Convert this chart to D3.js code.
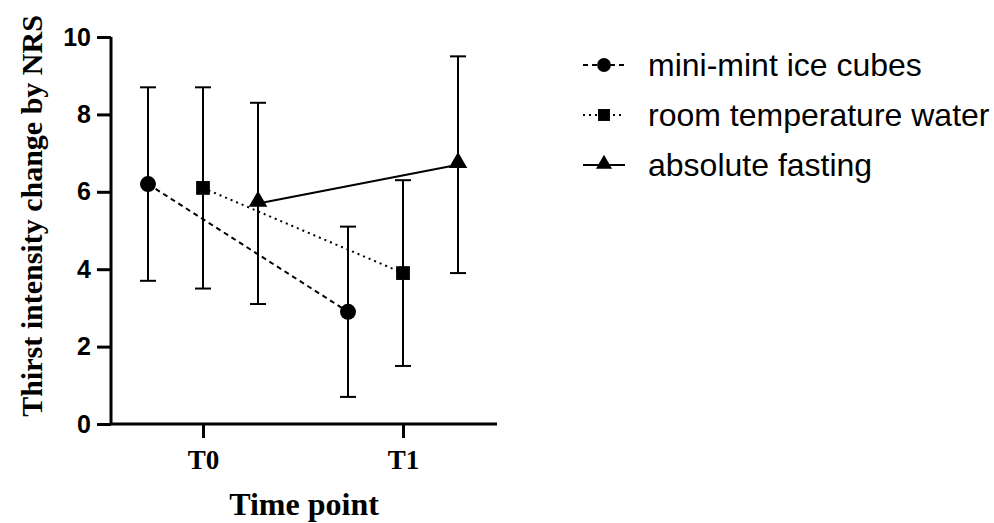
<!DOCTYPE html>
<html lang="en">
<head>
<meta charset="UTF-8">
<title>Thirst intensity</title>
<script src="https://d3js.org/d3.v7.min.js"></script>
<style>
  body { margin: 0; background: #fff; }
</style>
</head>
<body>
<script>
    // data
    var timePoints = ['T0', 'T1'];
    var seriesNames = ['mini-mint ice cubes', 'room temperature water', 'absolute fasting'];
    var means = [[6.2, 2.9], [6.1, 3.9], [5.7, 6.7]];
    var lows  = [[3.7, 0.7], [3.5, 1.5], [3.1, 3.9]];
    var highs = [[8.7, 5.1], [8.7, 6.3], [8.3, 9.5]];
    var yTicks = [0, 2, 4, 6, 8, 10];

    var dashes = ['5,4', '2,4', null];
    var symbols = [d3.symbolCircle, d3.symbolSquare, d3.symbolTriangle];
    var symSizes = [200, 190, 150];

    var svg = d3.select('body').append('svg')
        .attr('width', 994)
        .attr('height', 523);

    var x = d3.scalePoint().domain(timePoints).range([203, 403]);
    var offset = d3.scalePoint().domain(seriesNames).range([-55, 55]);
    var y = d3.scaleLinear().domain([0, 10]).range([424, 37]);

    // axes
    var yAxis = svg.append('g')
        .attr('transform', 'translate(111,0)')
        .call(d3.axisLeft(y).tickValues(yTicks).tickSize(14).tickPadding(6));
    var xAxis = svg.append('g')
        .attr('transform', 'translate(0,424)')
        .call(d3.axisBottom(x).tickSize(14).tickPadding(12));
    xAxis.select('.domain').attr('d', 'M111,0H497');
    yAxis.select('.domain').attr('d', 'M0,37V424');

    svg.selectAll('.domain, .tick line').attr('stroke', '#000').attr('stroke-width', 3);
    yAxis.selectAll('text')
        .style('font-family', 'Liberation Sans, Arial, sans-serif')
        .style('font-weight', 'bold')
        .style('font-size', '25px')
        .attr('fill', '#000');
    xAxis.selectAll('text')
        .style('font-family', 'Liberation Serif, Times New Roman, serif')
        .style('font-weight', 'bold')
        .style('font-size', '27px')
        .attr('fill', '#000');

    svg.append('text')
        .attr('transform', 'translate(42,216) rotate(-90)')
        .attr('text-anchor', 'middle')
        .style('font-family', 'Liberation Serif, Times New Roman, serif')
        .style('font-weight', 'bold')
        .style('font-size', '30px')
        .text('Thirst intensity change by NRS');

    svg.append('text')
        .attr('x', 304)
        .attr('y', 515)
        .attr('text-anchor', 'middle')
        .style('font-family', 'Liberation Serif, Times New Roman, serif')
        .style('font-weight', 'bold')
        .style('font-size', '32px')
        .text('Time point');

    // series
    seriesNames.forEach(function (name, i) {
        var g = svg.append('g');
        var pts = timePoints.map(function (t, j) {
            return { x: x(t) + offset(name), m: means[i][j], lo: lows[i][j], hi: highs[i][j] };
        });

        g.append('path')
            .attr('d', d3.line().x(function (d) { return d.x; }).y(function (d) { return y(d.m); })(pts))
            .attr('fill', 'none')
            .attr('stroke', '#000')
            .attr('stroke-width', 2)
            .attr('stroke-dasharray', dashes[i]);

        pts.forEach(function (d) {
            g.append('line')
                .attr('x1', d.x).attr('x2', d.x)
                .attr('y1', y(d.lo)).attr('y2', y(d.hi))
                .attr('stroke', '#000').attr('stroke-width', 2);
            [d.lo, d.hi].forEach(function (v) {
                g.append('line')
                    .attr('x1', d.x - 8).attr('x2', d.x + 8)
                    .attr('y1', y(v)).attr('y2', y(v))
                    .attr('stroke', '#000').attr('stroke-width', 2);
            });
            g.append('path')
                .attr('d', d3.symbol().type(symbols[i]).size(symSizes[i])())
                .attr('transform', 'translate(' + d.x + ',' + (y(d.m) + (i === 2 ? -2 : 0)) + ')')
                .attr('fill', '#000');
        });
    });

    // legend
    var legend = svg.append('g').attr('transform', 'translate(583,65)');
    seriesNames.forEach(function (name, i) {
        var row = legend.append('g').attr('transform', 'translate(0,' + (i * 50) + ')');
        row.append('line')
            .attr('x1', 0).attr('x2', 42)
            .attr('stroke', '#000').attr('stroke-width', 2)
            .attr('stroke-dasharray', dashes[i]);
        row.append('path')
            .attr('d', d3.symbol().type(symbols[i]).size(symSizes[i] * 0.75)())
            .attr('transform', 'translate(21,' + (i === 2 ? -1 : 0) + ')')
            .attr('fill', '#000');
        row.append('text')
            .attr('x', 65)
            .attr('dy', '0.35em')
            .style('font-family', 'Liberation Sans, Arial, sans-serif')
            .style('font-size', '32px')
            .text(name);
    });
</script>
</body>
</html>
